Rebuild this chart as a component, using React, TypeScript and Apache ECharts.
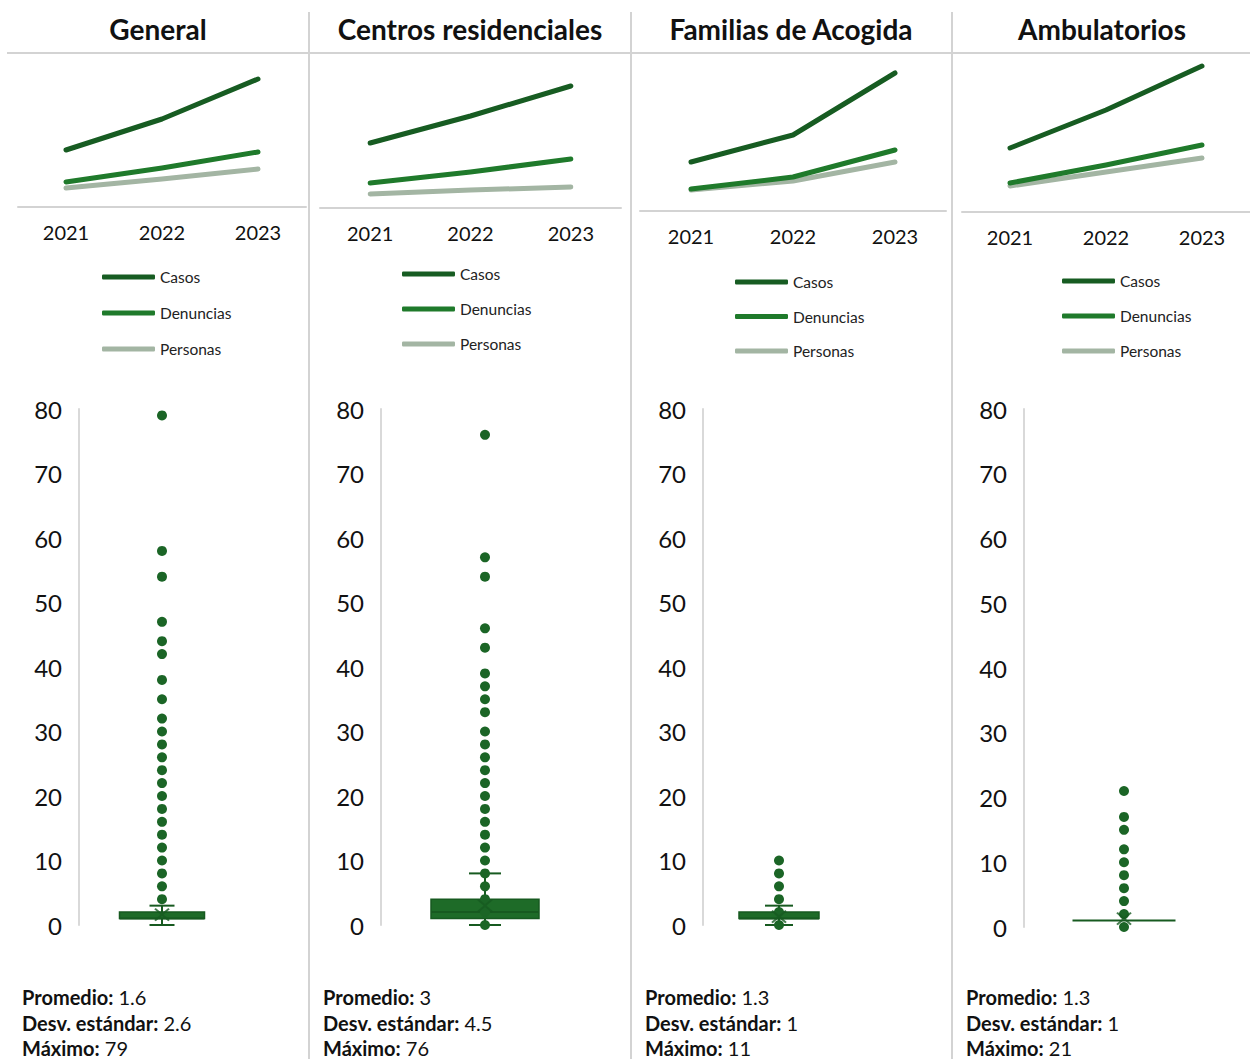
import React, { useEffect, useRef } from "react";
import * as echarts from "echarts";

const FONT = "Lato, 'Open Sans', sans-serif";

const panelTitles = ["General", "Centros residenciales", "Familias de Acogida", "Ambulatorios"];
const years = ["2021", "2022", "2023"];
const seriesNames = ["Casos", "Denuncias", "Personas"];

// trend values (relative index)
const casos = [[57, 88, 128], [65, 92, 122], [49, 76, 138], [64, 102, 146]];
const denuncias = [[25, 39, 55], [25, 36, 49], [22, 34, 61], [29, 47, 67]];
const personas = [[19, 28, 38], [14, 18, 21], [21, 30, 49], [26, 40, 54]];

// box stats: [min, Q1, median, Q3, max]
const boxStats = [[0, 1, 1, 2, 3], [0, 1, 2, 4, 8], [0, 1, 1, 2, 3], [1, 1, 1, 1, 1]];
const means = [1.6, 3, 1.3, 1.3];
const pointsGeneral = [79, 58, 54, 47, 44, 42, 38, 35, 32, 30, 28, 26, 24, 22, 20, 18, 16, 14, 12, 10, 8, 6, 4];
const pointsCentros = [76, 57, 54, 46, 43, 39, 37, 35, 33, 30, 28, 26, 24, 22, 20, 18, 16, 14, 12, 10, 8, 6, 4, 2, 0];
const pointsFamilias = [10, 8, 6, 4, 2, 0];
const pointsAmbulatorios = [21, 17, 15, 12, 10, 8, 6, 4, 2, 0];
const points = [pointsGeneral, pointsCentros, pointsFamilias, pointsAmbulatorios];

const statLabels = ["Promedio:", "Desv. estándar:", "Máximo:"];
const statPromedio = ["1.6", "3", "1.3", "1.3"];
const statDesv = ["2.6", "4.5", "1", "1"];
const statMax = ["79", "76", "11", "21"];

const lineColors = ["#175c22", "#1f7a2b", "#a3b5a3"];
const DOT = "#1b6526";

const lineGrids = [
  { left: 18, width: 288, top: 57, height: 150 },
  { left: 320, width: 301, top: 58, height: 150 },
  { left: 640, width: 306, top: 61, height: 150 },
  { left: 962, width: 303, top: 62, height: 150 },
];
const boxGrids = [
  { left: 79, width: 166, top: 409, height: 516 },
  { left: 381, width: 208, top: 409, height: 516 },
  { left: 703, width: 152, top: 409, height: 516 },
  { left: 1024, width: 200, top: 409, height: 518 },
];
const boxHalf = [42.5, 54, 40, 51.5];
const capHalf = [12.5, 16, 14, 0];
const titleCenters = [158, 470, 791, 1102];
const legendPos = [
  { left: 102, top: 269, gap: 20 },
  { left: 402, top: 266, gap: 19 },
  { left: 735, top: 274, gap: 18.5 },
  { left: 1062, top: 273, gap: 19 },
];
const statLeft = [22, 323, 645, 966];
const statLineY = [997, 1023, 1048];

export default function App() {
  const ref = useRef<HTMLDivElement>(null);
  useEffect(() => {
    if (!ref.current) return;
    const chart = echarts.init(ref.current, undefined, { renderer: "svg" });

    const grid: any[] = [];
    const xAxis: any[] = [];
    const yAxis: any[] = [];
    const series: any[] = [];
    const legend: any[] = [];
    const graphic: any[] = [];

    const valuesSets = [casos, denuncias, personas];

    for (let p = 0; p < 4; p++) {
      grid.push({ ...lineGrids[p], containLabel: false });
      xAxis.push({
        type: "category",
        gridIndex: p,
        data: years,
        boundaryGap: true,
        axisLine: { show: true, lineStyle: { color: "#d3d3d3", width: 2 } },
        axisTick: { show: false },
        axisLabel: { color: "#111", fontSize: 20, fontFamily: FONT, margin: 15 },
      });
      yAxis.push({ type: "value", gridIndex: p, min: 0, max: 150, show: false, splitLine: { show: false } });
      for (let s = 0; s < 3; s++) {
        series.push({
          type: "line",
          name: seriesNames[s],
          xAxisIndex: p,
          yAxisIndex: p,
          data: valuesSets[s][p],
          showSymbol: false,
          symbol: "none",
          lineStyle: { color: lineColors[s], width: 5, cap: "round", join: "round" },
          itemStyle: { color: lineColors[s] },
          z: 5 - s,
        });
      }
      legend.push({
        orient: "vertical",
        left: legendPos[p].left,
        top: legendPos[p].top,
        padding: 0,
        itemWidth: 53,
        itemHeight: 5,
        itemGap: legendPos[p].gap,
        icon: "roundRect",
        selectedMode: false,
        data: seriesNames,
        textStyle: { color: "#222", fontSize: 15.5, fontFamily: FONT, padding: [0, 0, 0, 0] },
      });
    }

    const statValues = [statPromedio, statDesv, statMax];

    for (let p = 0; p < 4; p++) {
      const gi = 4 + p;
      grid.push({ ...boxGrids[p], containLabel: false });
      xAxis.push({ type: "category", gridIndex: gi, data: ["x"], show: false });
      yAxis.push({
        type: "value",
        gridIndex: gi,
        min: 0,
        max: 80,
        interval: 10,
        axisLine: { show: true, lineStyle: { color: "#d9d9d9", width: 2 } },
        axisTick: { show: false },
        splitLine: { show: false },
        axisLabel: { color: "#111", fontSize: 24, fontFamily: FONT, margin: 17 },
      });
      const hw = boxHalf[p];
      const cw = capHalf[p];
      series.push({
        type: "custom",
        xAxisIndex: gi,
        yAxisIndex: gi,
        z: 2,
        data: [[0, ...boxStats[p]]],
        renderItem: (params: any, api: any) => {
          const cx = api.coord([0, 0])[0];
          const yMin = api.coord([0, api.value(1)])[1];
          const yQ1 = api.coord([0, api.value(2)])[1];
          const yMed = api.coord([0, api.value(3)])[1];
          const yQ3 = api.coord([0, api.value(4)])[1];
          const yMax = api.coord([0, api.value(5)])[1];
          const stroke = { stroke: "#175a20", lineWidth: 2 };
          const children: any[] = [
            { type: "line", shape: { x1: cx, y1: yMax, x2: cx, y2: yQ3 }, style: stroke },
            { type: "line", shape: { x1: cx, y1: yQ1, x2: cx, y2: yMin }, style: stroke },
          ];
          if (cw > 0) {
            children.push({ type: "line", shape: { x1: cx - cw, y1: yMax, x2: cx + cw, y2: yMax }, style: stroke });
            children.push({ type: "line", shape: { x1: cx - cw, y1: yMin, x2: cx + cw, y2: yMin }, style: stroke });
          }
          const h = Math.max(yQ1 - yQ3, 0);
          if (h > 0) {
            children.push({
              type: "rect",
              shape: { x: cx - hw, y: yQ3, width: hw * 2, height: h },
              style: { fill: "#1e6b28", stroke: "#175a20", lineWidth: 1.5 },
            });
          }
          children.push({
            type: "line",
            shape: { x1: cx - hw, y1: yMed, x2: cx + hw, y2: yMed },
            style: { stroke: "#175a20", lineWidth: 2 },
          });
          return { type: "group", children };
        },
      });
      series.push({
        type: "scatter",
        xAxisIndex: gi,
        yAxisIndex: gi,
        z: 3,
        symbol: "circle",
        symbolSize: 10,
        itemStyle: { color: DOT, opacity: 1 },
        data: points[p].map((v) => [0, v]),
      });
      series.push({
        type: "scatter",
        xAxisIndex: gi,
        yAxisIndex: gi,
        z: 4,
        symbol: "path://M0,0L10,10M10,0L0,10",
        symbolSize: [14, 12],
        itemStyle: { color: "rgba(0,0,0,0)", borderColor: "#175a20", borderWidth: 2 },
        data: [[0, means[p]]],
      });

      for (let k = 0; k < 3; k++) {
        graphic.push({
          type: "text",
          x: statLeft[p],
          y: statLineY[k],
          style: {
            text: `{b|${statLabels[k]}} ${statValues[k][p]}`,
            fontFamily: FONT,
            fontSize: 20,
            lineHeight: 20,
            fill: "#111",
            verticalAlign: "middle",
            rich: { b: { fontFamily: FONT, fontSize: 20, fontWeight: "bold", fill: "#111", lineHeight: 20 } },
          },
        });
      }
      graphic.push({
        type: "text",
        x: titleCenters[p],
        y: 29,
        style: {
          text: panelTitles[p],
          fontFamily: FONT,
          fontSize: 28,
          fontWeight: "bold",
          fill: "#111",
          align: "center",
          verticalAlign: "middle",
        },
      });
    }

    // separators
    graphic.push({ type: "line", shape: { x1: 7, y1: 53, x2: 1250, y2: 53 }, style: { stroke: "#d3d3d3", lineWidth: 2 } });
    [309, 631, 952].forEach((x) => {
      graphic.push({ type: "line", shape: { x1: x, y1: 12, x2: x, y2: 1059 }, style: { stroke: "#d3d3d3", lineWidth: 2 } });
    });

    chart.setOption({
      animation: false,
      backgroundColor: "#fff",
      grid,
      xAxis,
      yAxis,
      series,
      legend,
      graphic,
    });
    return () => chart.dispose();
  }, []);
  return <div ref={ref} style={{ position: "absolute", left: 0, top: 0, width: 1250, height: 1059 }} />;
}
